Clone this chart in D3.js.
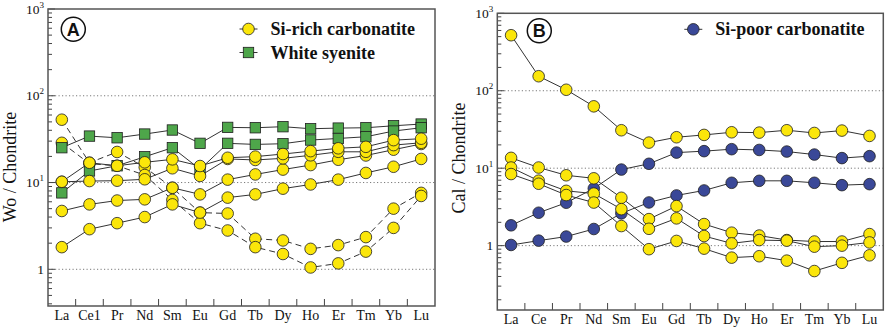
<!DOCTYPE html>
<html>
<head>
<meta charset="utf-8">
<script src="https://d3js.org/d3.v7.min.js"></script>
<style>
  body { margin: 0; background: #fff; }
  text { font-family: "Liberation Serif", "Times New Roman", serif; fill: #111; }
</style>
</head>
<body>
<svg id="chart" width="886" height="328"></svg>
<script>
// ---- data ----
var catsA = ["La", "Ce1", "Pr", "Nd", "Sm", "Eu", "Gd", "Tb", "Dy", "Ho", "Er", "Tm", "Yb", "Lu"];
var catsB = ["La", "Ce", "Pr", "Nd", "Sm", "Eu", "Gd", "Tb", "Dy", "Ho", "Er", "Tm", "Yb", "Lu"];

// panel A : Wo / Chondrite
var siRichDashed1 = [53, 16.9, 22.5, 15, 8.7, 4.5, 4.4, 2.25, 2.15, 1.72, 1.9, 2.35, 5.0, 7.6];
var siRichDashed2 = [28.7, 16.5, 15.6, 12.2, 6.3, 3.4, 2.8, 1.8, 1.5, 1.05, 1.17, 1.6, 3.0, 7.0];
var syenite1 = [25.2, 34.3, 32.8, 36.2, 40.3, 28.3, 43.2, 42.8, 44.0, 41.7, 42.4, 42.8, 45.1, 47.2];
var syenite2 = [7.6, 13.6, 15.6, 19.8, 25.2, 14.2, 28.3, 27.5, 28.0, 30.9, 32.2, 33.7, 39.2, 42.8];
var siRich1 = [1.8, 2.9, 3.4, 4.0, 5.6, 4.5, 6.7, 7.3, 8.5, 9.5, 10.8, 12.9, 15.2, 18.7];
var siRich2 = [4.7, 5.6, 6.2, 6.4, 8.7, 7.3, 10.8, 12.4, 14.1, 15.9, 18.3, 20.5, 23.9, 27.8];
var siRich3 = [10.2, 10.4, 10.5, 10.9, 14.6, 11.9, 18.7, 18.2, 19.0, 20.6, 22.6, 22.6, 27.0, 28.7];
var siRich4 = [10.2, 16.9, 15.6, 17.1, 18.5, 15.5, 19.3, 19.9, 21.3, 23.0, 24.8, 25.8, 30.8, 32.0];

// panel B : Cal / Chondrite
var siPoor1 = [1.83, 2.66, 3.58, 5.47, 9.6, 11.4, 15.9, 16.6, 17.6, 17.2, 16.4, 15.0, 13.5, 14.3];
var siPoor2 = [1.02, 1.16, 1.31, 1.64, 2.61, 3.61, 4.45, 5.16, 6.48, 6.87, 6.87, 6.48, 6.04, 6.22];
var calY1 = [521, 154, 103, 62.9, 30.9, 21.4, 25.1, 26.9, 29.1, 28.8, 30.9, 28.5, 30.6, 26.1];
var calY2 = [13.6, 10.2, 8.1, 7.4, 4.15, 2.2, 3.24, 1.9, 1.47, 1.35, 1.18, 1.13, 1.13, 1.41];
var calY3 = [10.2, 6.9, 5.1, 4.7, 2.96, 1.65, 2.25, 1.33, 1.07, 1.18, 1.16, 0.97, 1.0, 1.10];
var calY4 = [8.4, 6.3, 4.5, 3.6, 1.79, 0.90, 1.15, 0.915, 0.70, 0.73, 0.64, 0.47, 0.60, 0.75];

var yTickValues = [1, 10, 100, 1000];

var YELLOW = "#fbe60a", GREEN = "#4ea64a", BLUE = "#3a4898", EDGE = "#1e1e1e", LINE = "#333";
var R = 5.8, SQ = 10.4;

var svg = d3.select("#chart");

function panel(o) {
  var x = d3.scalePoint().domain(o.cats).range([o.left, o.right]).padding(0.5);
  var y = d3.scaleLog().domain([o.ymin, 1000]).range([o.bottom, o.top]);
  var g = svg.append("g");

  // dotted grid
  g.selectAll(".grid").data([1, 10, 100]).enter().append("line")
    .attr("x1", o.left).attr("x2", o.right)
    .attr("y1", function(d) { return y(d); }).attr("y2", function(d) { return y(d); })
    .attr("stroke", "#7a7a7a").attr("stroke-width", 1).attr("stroke-dasharray", "1.2,2.3");

  // y ticks (log minor + major), pointing inward
  g.selectAll(".yt").data(y.ticks()).enter().append("line")
    .attr("x1", o.left)
    .attr("x2", function(d) {
      var l = Math.log10(d);
      return o.left + (Math.abs(l - Math.round(l)) < 1e-6 ? 7 : 4);
    })
    .attr("y1", function(d) { return y(d); }).attr("y2", function(d) { return y(d); })
    .attr("stroke", "#444").attr("stroke-width", 1);

  // y tick labels
  var lab = g.selectAll(".yl").data(yTickValues).enter().append("text")
    .attr("x", o.left - 4)
    .attr("y", function(d) { return y(d) + 4.5; })
    .attr("text-anchor", "end")
    .style("font-size", "13.5px");
  lab.each(function(d) {
    var t = d3.select(this);
    if (d === 1) { t.text("1"); return; }
    t.append("tspan").text("10");
    t.append("tspan").attr("dy", -6).style("font-size", "9px").text(Math.round(Math.log10(d)));
  });

  // x ticks at band boundaries, pointing upward
  var step = x.step();
  g.selectAll(".xt").data(o.cats.slice(0, -1)).enter().append("line")
    .attr("x1", function(d) { return x(d) + step / 2; })
    .attr("x2", function(d) { return x(d) + step / 2; })
    .attr("y1", o.bottom).attr("y2", o.bottom - 7)
    .attr("stroke", "#444").attr("stroke-width", 1);

  // x labels
  g.selectAll(".xl").data(o.cats).enter().append("text")
    .attr("x", function(d) { return x(d); })
    .attr("y", o.bottom + 14)
    .attr("text-anchor", "middle")
    .style("font-size", "14px")
    .text(function(d) { return d; });

  // y title
  g.append("text")
    .attr("transform", "translate(" + o.titleX + "," + o.titleY + ") rotate(-90)")
    .attr("text-anchor", "middle")
    .style("font-size", "18px")
    .text(o.title);

  var line = d3.line()
    .x(function(d, i) { return x(o.cats[i]); })
    .y(function(d) { return y(d); });

  o.series.forEach(function(s) {
    g.append("path").datum(s.values)
      .attr("d", line)
      .attr("fill", "none")
      .attr("stroke", LINE).attr("stroke-width", 1)
      .attr("stroke-dasharray", s.dashed ? "6,4" : null);
    if (s.shape === "square") {
      g.selectAll(null).data(s.values).enter().append("rect")
        .attr("x", function(d, i) { return x(o.cats[i]) - SQ / 2; })
        .attr("y", function(d) { return y(d) - SQ / 2; })
        .attr("width", SQ).attr("height", SQ)
        .attr("fill", s.color).attr("stroke", EDGE).attr("stroke-width", 0.8);
    } else {
      g.selectAll(null).data(s.values).enter().append("circle")
        .attr("cx", function(d, i) { return x(o.cats[i]); })
        .attr("cy", function(d) { return y(d); })
        .attr("r", R)
        .attr("fill", s.color).attr("stroke", EDGE).attr("stroke-width", 0.8);
    }
  });

  // frame
  g.append("rect")
    .attr("x", o.left).attr("y", o.top)
    .attr("width", o.right - o.left).attr("height", o.bottom - o.top)
    .attr("fill", "none").attr("stroke", "#555").attr("stroke-width", 1.5);

  // panel letter
  g.append("circle").attr("cx", o.letterX).attr("cy", o.letterY).attr("r", 12)
    .attr("fill", "#fff").attr("stroke", "#111").attr("stroke-width", 1.5);
  g.append("text").attr("x", o.letterX).attr("y", o.letterY + 6.5)
    .attr("text-anchor", "middle")
    .style("font-family", "'Liberation Sans', Arial, sans-serif")
    .style("font-weight", "bold").style("font-size", "18px")
    .text(o.letter);

  // legend
  o.legend.forEach(function(l, i) {
    var ly = o.legendY + i * 23.5;
    g.append("line").attr("x1", o.legendX - 9).attr("x2", o.legendX + 9)
      .attr("y1", ly).attr("y2", ly).attr("stroke", LINE).attr("stroke-width", 1);
    if (l.shape === "square") {
      g.append("rect").attr("x", o.legendX - SQ / 2).attr("y", ly - SQ / 2)
        .attr("width", SQ).attr("height", SQ)
        .attr("fill", l.color).attr("stroke", EDGE).attr("stroke-width", 0.8);
    } else {
      g.append("circle").attr("cx", o.legendX).attr("cy", ly).attr("r", R)
        .attr("fill", l.color).attr("stroke", EDGE).attr("stroke-width", 0.8);
    }
    g.append("text").attr("x", o.legendX + 22).attr("y", ly + 6)
      .style("font-weight", "bold").style("font-size", "18px")
      .text(l.label);
  });
}

panel({
  cats: catsA, left: 48, right: 435, top: 9, bottom: 306,
  ymin: Math.pow(10, -0.423),
  title: "Wo / Chondrite", titleX: 15.5, titleY: 167,
  letter: "A", letterX: 73.3, letterY: 29.3,
  legendX: 248.5, legendY: 29,
  legend: [
    { label: "Si-rich carbonatite", color: YELLOW, shape: "circle" },
    { label: "White syenite", color: GREEN, shape: "square" }
  ],
  series: [
    { values: siRichDashed1, color: YELLOW, shape: "circle", dashed: true },
    { values: siRichDashed2, color: YELLOW, shape: "circle", dashed: true },
    { values: syenite1, color: GREEN, shape: "square" },
    { values: syenite2, color: GREEN, shape: "square" },
    { values: siRich1, color: YELLOW, shape: "circle" },
    { values: siRich2, color: YELLOW, shape: "circle" },
    { values: siRich3, color: YELLOW, shape: "circle" },
    { values: siRich4, color: YELLOW, shape: "circle" }
  ]
});

panel({
  cats: catsB, left: 497.3, right: 883.3, top: 13.3, bottom: 310,
  ymin: Math.pow(10, -0.831),
  title: "Cal / Chondrite", titleX: 465, titleY: 158,
  letter: "B", letterX: 539.3, letterY: 30.7,
  legendX: 693.3, legendY: 29.3,
  legend: [
    { label: "Si-poor carbonatite", color: BLUE, shape: "circle" }
  ],
  series: [
    { values: siPoor1, color: BLUE, shape: "circle" },
    { values: siPoor2, color: BLUE, shape: "circle" },
    { values: calY1, color: YELLOW, shape: "circle" },
    { values: calY2, color: YELLOW, shape: "circle" },
    { values: calY3, color: YELLOW, shape: "circle" },
    { values: calY4, color: YELLOW, shape: "circle" }
  ]
});
</script>
</body>
</html>
